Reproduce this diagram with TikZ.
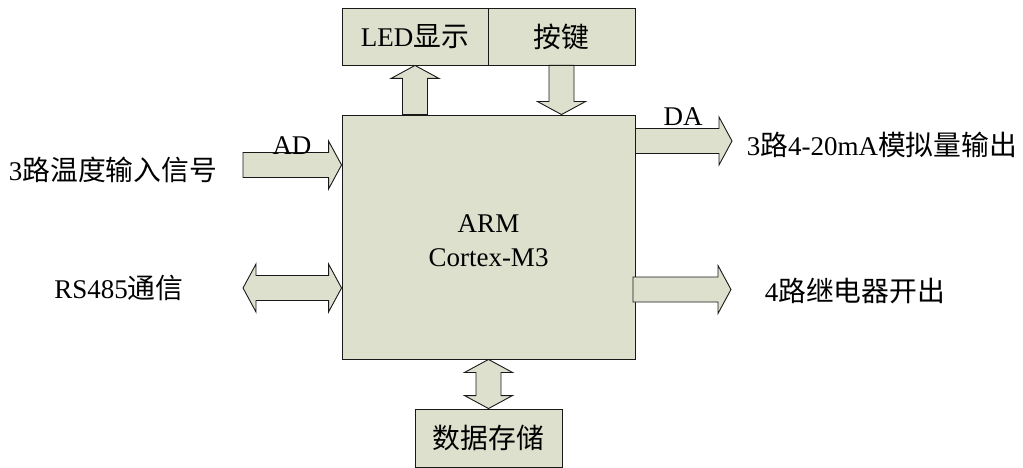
\documentclass[tikz,border=0pt]{standalone}
\usepackage{fontspec}
\setmainfont{Liberation Serif}
\newfontfamily\cjk{Noto Sans CJK SC}[Scale=1.03]
\usetikzlibrary{calc}
\definecolor{boxfill}{RGB}{221,224,205}
\definecolor{edge}{RGB}{25,25,25}
\def\bashaft{12.5pt}
\def\bahead{24pt}
\def\balen{13pt}
% single block arrow from #1 to #2
\newcommand\blockarrow[2]{%
  \draw[blk] let \p1=(#1), \p2=(#2), \n1={veclen(\x2-\x1,\y2-\y1)},
    \n2={(\x2-\x1)/\n1}, \n3={(\y2-\y1)/\n1} in
    ({\x1-(\n3)*\bashaft},{\y1+(\n2)*\bashaft}) --
    ({\x2-(\n2)*\balen-(\n3)*\bashaft},{\y2-(\n3)*\balen+(\n2)*\bashaft}) --
    ({\x2-(\n2)*\balen-(\n3)*\bahead},{\y2-(\n3)*\balen+(\n2)*\bahead}) --
    (\x2,\y2) --
    ({\x2-(\n2)*\balen+(\n3)*\bahead},{\y2-(\n3)*\balen-(\n2)*\bahead}) --
    ({\x2-(\n2)*\balen+(\n3)*\bashaft},{\y2-(\n3)*\balen-(\n2)*\bashaft}) --
    ({\x1+(\n3)*\bashaft},{\y1-(\n2)*\bashaft}) -- cycle;}
% double block arrow between #1 and #2
\newcommand\dblockarrow[2]{%
  \draw[blk] let \p1=(#1), \p2=(#2), \n1={veclen(\x2-\x1,\y2-\y1)},
    \n2={(\x2-\x1)/\n1}, \n3={(\y2-\y1)/\n1} in
    (\x1,\y1) --
    ({\x1+(\n2)*\balen-(\n3)*\bahead},{\y1+(\n3)*\balen+(\n2)*\bahead}) --
    ({\x1+(\n2)*\balen-(\n3)*\bashaft},{\y1+(\n3)*\balen+(\n2)*\bashaft}) --
    ({\x2-(\n2)*\balen-(\n3)*\bashaft},{\y2-(\n3)*\balen+(\n2)*\bashaft}) --
    ({\x2-(\n2)*\balen-(\n3)*\bahead},{\y2-(\n3)*\balen+(\n2)*\bahead}) --
    (\x2,\y2) --
    ({\x2-(\n2)*\balen+(\n3)*\bahead},{\y2-(\n3)*\balen-(\n2)*\bahead}) --
    ({\x2-(\n2)*\balen+(\n3)*\bashaft},{\y2-(\n3)*\balen-(\n2)*\bashaft}) --
    ({\x1+(\n2)*\balen+(\n3)*\bashaft},{\y1+(\n3)*\balen-(\n2)*\bashaft}) --
    ({\x1+(\n2)*\balen+(\n3)*\bahead},{\y1+(\n3)*\balen-(\n2)*\bahead}) -- cycle;}
\begin{document}
\begin{tikzpicture}[x=1pt,y=-1pt,
  box/.style={draw=edge,fill=boxfill,line width=0.9pt,inner sep=0pt,
    font=\fontsize{27}{34}\selectfont,align=center},
  blk/.style={draw=edge,fill=boxfill,line width=0.9pt,line join=miter},
  lbl/.style={inner sep=0pt,font=\fontsize{27}{34}\selectfont,align=center}]
\useasboundingbox (0,0) rectangle (1023,468);
% blocks
\node[box,minimum width=293pt,minimum height=244pt] (main) at (488.5,237) {};
\node[lbl] (cpu) at (488.5,241) {ARM\\Cortex-M3};
\node[box,minimum width=146pt,minimum height=57pt] (led) at (415,36.5) {LED{\cjk 显示}};
\node[box,minimum width=147pt,minimum height=57pt] (key) at (561.5,36.5) {{\cjk 按键}};
\node[box,minimum width=147pt,minimum height=58pt] (store) at (488.5,438) {{\cjk 数据存储}};
% outer labels
\node[lbl] (tin) at (113,170) {3{\cjk 路温度输入信号}};
\node[lbl] (rs) at (119,288) {RS485{\cjk 通信}};
\node[lbl] (aout) at (882,145) {3{\cjk 路}4-20mA{\cjk 模拟量输出}};
\node[lbl] (relay) at (855,291) {4{\cjk 路继电器开出}};
% connector end points
\coordinate (adS) at (243,165);
\coordinate (daE) at (732,141);
\coordinate (rlS) at (633,289.5);
\coordinate (rlE) at (731,289.5);
\coordinate (rsS) at (243,288);
% arrows
\blockarrow{main.north -| led.south}{led.south}
\blockarrow{key.south}{main.north -| key.south}
\blockarrow{adS}{main.west |- adS}
\blockarrow{main.east |- daE}{daE}
\blockarrow{rlS}{rlE}
\dblockarrow{rsS}{main.west |- rsS}
\dblockarrow{main.south}{store.north}
% arrow labels
\node[lbl] (ad) at (292,146) {AD};
\node[lbl] (da) at (683,117) {DA};
\end{tikzpicture}
\end{document}
